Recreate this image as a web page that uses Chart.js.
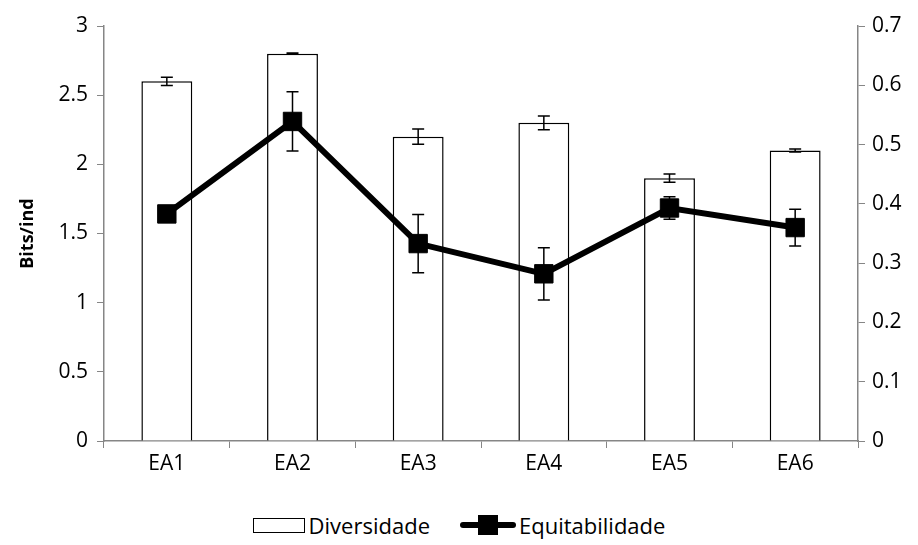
<!DOCTYPE html>
<html>
<head>
<meta charset="utf-8">
<script src="https://cdn.jsdelivr.net/npm/chart.js@4.4.1/dist/chart.umd.min.js"></script>
<style>
  body { margin: 0; background: #fff; font-family: "Open Sans", sans-serif; }
  .wrap { position: relative; width: 918px; height: 545px; }
  .legend { position: absolute; top: 507px; left: 0; width: 918px; text-align: center; font-size: 22px; color: #000; }
  .legend span { display: inline-block; vertical-align: middle; }
  .box { width: 50px; height: 13px; border: 1px solid #000; background: #fff; margin-right: 4px; }
  .ln { position: relative; width: 56px; height: 20px; margin-left: 30px; margin-right: 3px; }
  .ln::before { content: ""; position: absolute; left: 0; right: 0; top: 7px; height: 6px; background: #000; border-radius: 3px; }
  .ln::after { content: ""; position: absolute; left: 18px; top: 0; width: 20px; height: 20px; background: #000; }
</style>
</head>
<body>
<div class="wrap">
  <canvas id="c" width="918" height="490"></canvas>
  <div class="legend">
    <span class="box"></span><span>Diversidade</span><span class="ln"></span><span>Equitabilidade</span>
  </div>
</div>
<script>
const labels = ["EA1", "EA2", "EA3", "EA4", "EA5", "EA6"];
const diversidade = [2.6, 2.8, 2.2, 2.3, 1.9, 2.1];
const diversidadeErr = [0.03, 0.005, 0.055, 0.05, 0.03, 0.01];
const equitabilidade = [0.383, 0.539, 0.333, 0.282, 0.393, 0.360];
const equitabilidadeErr = [0, 0.05, 0.049, 0.044, 0.019, 0.031];

const gray = "#868686";

// error bars drawn through the scales after the bars, before the line
const errorBars = {
  id: "errorBars",
  afterDatasetDraw(chart, args) {
    if (args.index !== 0) return;
    const ctx = chart.ctx;
    const x = chart.scales.x;
    const sets = [
      { vals: diversidade, errs: diversidadeErr, scale: chart.scales.y },
      { vals: equitabilidade, errs: equitabilidadeErr, scale: chart.scales.y2 },
    ];
    ctx.save();
    ctx.strokeStyle = "#000";
    ctx.lineWidth = 1.5;
    sets.forEach(s => {
      s.vals.forEach((v, i) => {
        if (!s.errs[i]) return;
        const px = x.getPixelForValue(i);
        const top = s.scale.getPixelForValue(v + s.errs[i]);
        const bot = s.scale.getPixelForValue(v - s.errs[i]);
        ctx.beginPath();
        ctx.moveTo(px, top); ctx.lineTo(px, bot);
        ctx.moveTo(px - 6, top); ctx.lineTo(px + 6, top);
        ctx.moveTo(px - 6, bot); ctx.lineTo(px + 6, bot);
        ctx.stroke();
      });
    });
    ctx.restore();
  }
};

const yTitle = {
  id: "yTitle",
  afterDraw(chart) {
    const ctx = chart.ctx;
    const a = chart.chartArea;
    ctx.save();
    ctx.translate(28, (a.top + a.bottom) / 2);
    ctx.rotate(-Math.PI / 2);
    ctx.font = "bold 18px 'Open Sans'";
    ctx.fillStyle = "#000";
    ctx.textAlign = "center";
    ctx.textBaseline = "middle";
    ctx.fillText("Bits/ind", 0, 0);
    ctx.restore();
  }
};

const tickFont = { family: "Open Sans", size: 21 };
const fmt = v => String(+v.toFixed(2));

new Chart(document.getElementById("c"), {
  data: {
    labels: labels,
    datasets: [
      {
        type: "bar",
        label: "Diversidade",
        data: diversidade,
        backgroundColor: "#fff",
        borderColor: "#000",
        borderWidth: 1.5,
        categoryPercentage: 1,
        barPercentage: 0.405,
        yAxisID: "y",
        order: 2,
      },
      {
        type: "line",
        label: "Equitabilidade",
        data: equitabilidade,
        borderColor: "#000",
        borderWidth: 6,
        pointStyle: "rect",
        pointRadius: 13,
        pointBackgroundColor: "#000",
        pointBorderColor: "#000",
        pointBorderWidth: 1,
        tension: 0,
        yAxisID: "y2",
        order: 1,
      },
    ],
  },
  options: {
    responsive: false,
    animation: false,
    layout: { padding: { top: 26, left: 0, right: 0, bottom: 0 } },
    plugins: {
      legend: { display: false },
      tooltip: { enabled: false },
    },
    scales: {
      x: {
        grid: { display: true, drawOnChartArea: false, drawTicks: true, tickLength: 7, color: gray, offset: true },
        border: { color: gray, width: 1.5 },
        ticks: { color: "#000", font: tickFont, padding: 3 },
        afterFit(s) { s.height = 49; },
      },
      y: {
        position: "left",
        min: 0, max: 3,
        ticks: { stepSize: 0.5, color: "#000", font: tickFont, padding: 9, callback: fmt },
        grid: { drawOnChartArea: false, tickLength: 7, color: gray },
        border: { color: gray, width: 1.5 },
        afterFit(s) { s.width = 104; },
      },
      y2: {
        position: "right",
        min: 0, max: 0.7,
        ticks: { stepSize: 0.1, color: "#000", font: tickFont, padding: 7, callback: fmt },
        grid: { drawOnChartArea: false, tickLength: 7, color: gray },
        border: { color: gray, width: 1.5 },
        afterFit(s) { s.width = 60; },
      },
    },
  },
  plugins: [errorBars, yTitle],
});
</script>
</body>
</html>
